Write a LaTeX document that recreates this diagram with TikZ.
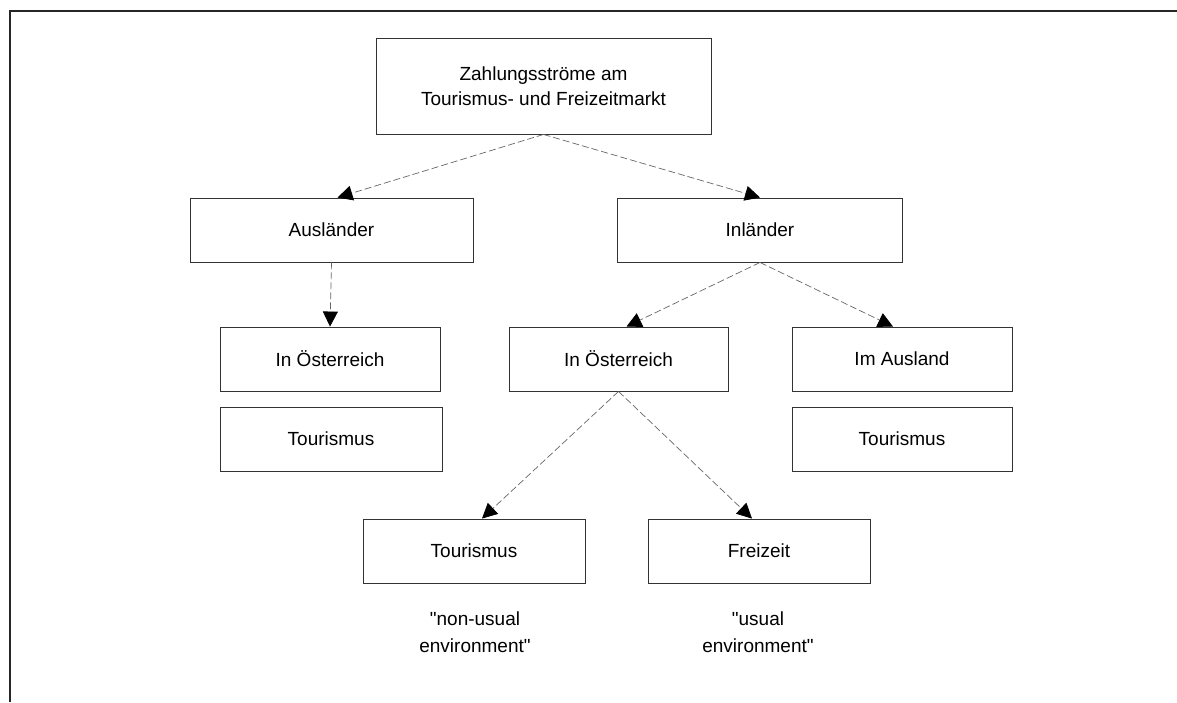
\documentclass[tikz,border=0pt]{standalone}
\usepackage{fontspec}
\setmainfont{Liberation Sans}
\usetikzlibrary{arrows.meta}
\tikzset{
  box/.style={
    draw=black!80,           % box outline
    line width=0.9pt,
    align=center,
    font=\fontsize{19}{25}\selectfont,
  },
  flow/.style={
    -{Triangle[length=15pt,width=15pt,color=black]}, % filled arrow tip
    draw=black!60,
    line width=0.7pt,
    dash pattern=on 7pt off 3pt,
  },
  note/.style={align=center, font=\fontsize{19}{27}\selectfont}
}

\begin{document}
\begin{tikzpicture}[x=1pt, y=-1pt]
    \useasboundingbox (0,0) rectangle (1177,702);

    % Frame
    \draw[line width=2pt, black!85] (10,702) -- (10,11) -- (1177,11);

    % Top
    \node[box, minimum width=335pt, minimum height=96pt] (markt) at (543.5,86)
      {Zahlungsströme am\\Tourismus- und Freizeitmarkt};

    % Second row
    \node[box, minimum width=283pt, minimum height=64pt] (auslaender) at (331.5,230) {Ausländer};
    \node[box, minimum width=285pt, minimum height=64pt] (inlaender) at (760,230) {Inländer};

    % Third row
    \node[box, minimum width=220pt, minimum height=64pt] (oesterrA) at (330,359) {In Österreich};
    \node[box, minimum width=219pt, minimum height=64pt] (oesterrI) at (618.5,359) {In Österreich};
    \node[box, minimum width=220pt, minimum height=64pt] (ausland) at (902,359) {Im Ausland};
    \node[box, minimum width=222pt, minimum height=64pt] (tourA) at (331,439) {Tourismus};
    \node[box, minimum width=220pt, minimum height=64pt] (tourI) at (902,439) {Tourismus};

    % Bottom row
    \node[box, minimum width=222pt, minimum height=64pt] (tourismus) at (474,551) {Tourismus};
    \node[box, minimum width=222pt, minimum height=64pt] (freizeit) at (759,551) {Freizeit};
    \node[note] (nonusual) at (475,632) {\textquotedbl non-usual\\environment\textquotedbl};
    \node[note] (usual) at (758,632) {\textquotedbl usual\\environment\textquotedbl};

    % Arrows
    \draw[flow] (markt.south) -- ([xshift=6pt]auslaender.north);
    \draw[flow] (markt.south) -- (inlaender.north);
    \draw[flow] (auslaender.south) -- (oesterrA.north);
    \draw[flow] (inlaender.south) -- ([xshift=8pt]oesterrI.north);
    \draw[flow] (inlaender.south) -- ([xshift=-9pt]ausland.north);
    \draw[flow] (oesterrI.south) -- ([xshift=8pt]tourismus.north);
    \draw[flow] (oesterrI.south) -- ([xshift=-7pt]freizeit.north);
\end{tikzpicture}
\end{document}
